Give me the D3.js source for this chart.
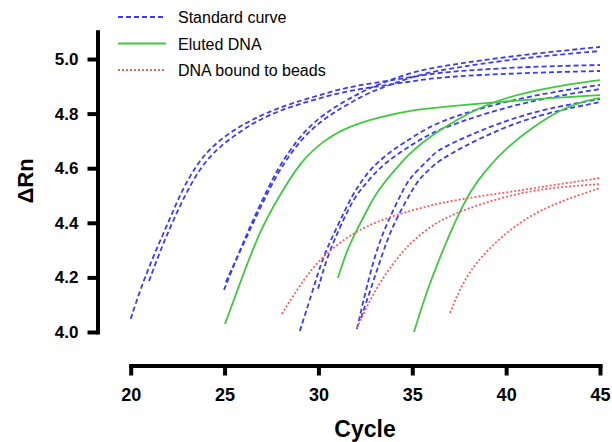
<!DOCTYPE html>
<html>
<head>
<meta charset="utf-8">
<script src="https://cdn.jsdelivr.net/npm/d3@7"></script>
<style>
  body { margin: 0; background: #fff; }
  text { font-family: "Liberation Sans", Arial, sans-serif; }
</style>
</head>
<body>
<svg width="612" height="442"></svg>
<script>
// Amplification curves, [cycle, delta Rn]
const std1 = [[20.0,4.048],[20.5,4.154],[21.19,4.275],[21.93,4.39],[22.73,4.52],[23.53,4.614],[24.22,4.672],[25.29,4.732],[26.51,4.78],[27.95,4.824],[29.71,4.861],[31.52,4.897],[33.28,4.916],[35.04,4.934],[36.48,4.952],[40.74,4.971],[45.0,4.978]];
const std2 = [[20.98,4.187],[21.72,4.326],[23.0,4.52],[23.85,4.614],[24.6,4.67],[25.45,4.716],[26.51,4.766],[27.95,4.813],[29.71,4.85],[31.52,4.883],[33.28,4.901],[35.04,4.919],[36.48,4.934],[40.74,4.949],[45.0,4.956]];
const std3 = [[24.97,4.154],[25.82,4.3],[26.51,4.41],[27.26,4.52],[27.95,4.612],[28.86,4.703],[29.71,4.766],[30.62,4.813],[31.52,4.85],[32.59,4.89],[33.81,4.923],[35.04,4.952],[36.48,4.974],[40.74,5.015],[45.0,5.044]];
const std4 = [[25.07,4.183],[25.98,4.319],[26.72,4.429],[27.47,4.535],[28.16,4.619],[29.02,4.7],[29.87,4.758],[30.78,4.802],[31.68,4.839],[32.75,4.879],[33.92,4.908],[35.14,4.938],[36.48,4.96],[40.74,5.004],[45.0,5.029]];
const std5 = [[29.01,4.004],[29.71,4.154],[30.24,4.275],[30.99,4.385],[31.68,4.484],[32.05,4.527],[32.59,4.582],[33.28,4.63],[34.19,4.678],[35.04,4.714],[36.48,4.777],[40.74,4.861],[45.0,4.905]];
const std6 = [[29.98,4.158],[30.46,4.275],[31.15,4.385],[31.84,4.484],[32.32,4.527],[32.86,4.571],[33.55,4.619],[34.46,4.663],[35.31,4.7],[36.48,4.747],[40.74,4.842],[45.0,4.89]];
const std7 = [[32.05,4.011],[32.74,4.216],[33.28,4.337],[33.81,4.421],[34.5,4.52],[34.88,4.564],[35.41,4.601],[36.1,4.648],[36.48,4.674],[40.74,4.802],[45.0,4.853]];
const std8 = [[32.27,4.051],[33.12,4.227],[33.66,4.337],[34.19,4.421],[34.99,4.52],[35.41,4.564],[35.79,4.586],[36.48,4.637],[40.74,4.784],[45.0,4.842]];

const eluted1 = [[25.02,4.029],[25.82,4.179],[26.89,4.374],[27.95,4.502],[29.02,4.622],[30.24,4.7],[31.52,4.751],[33.28,4.788],[35.04,4.813],[36.48,4.824],[40.74,4.85],[45.0,4.868]];
const eluted2 = [[31.04,4.198],[31.52,4.3],[32.05,4.374],[32.59,4.447],[33.17,4.52],[34.19,4.604],[35.04,4.667],[35.95,4.714],[36.48,4.74],[38.24,4.813],[40.05,4.861],[42.34,4.897],[45.0,4.923]];
const eluted3 = [[35.09,4.0],[35.79,4.154],[36.48,4.275],[37.38,4.421],[38.13,4.52],[38.77,4.582],[40.05,4.678],[41.43,4.751],[42.87,4.813],[43.94,4.842],[45.0,4.857]];

const beads1 = [[28.05,4.066],[28.85,4.154],[29.71,4.238],[30.62,4.3],[31.84,4.363],[33.28,4.41],[35.04,4.447],[36.48,4.473],[38.61,4.498],[40.9,4.52],[42.87,4.542],[45.0,4.564]];
const beads2 = [[32.05,4.015],[32.59,4.095],[33.28,4.183],[34.19,4.271],[35.04,4.337],[36.48,4.414],[38.61,4.469],[40.9,4.513],[42.87,4.531],[45.0,4.542]];
const beads3 = [[37.01,4.07],[37.54,4.16],[38.24,4.24],[39.14,4.31],[40.37,4.385],[41.81,4.447],[43.57,4.495],[45.0,4.527]];

const yTicks = [4.0, 4.2, 4.4, 4.6, 4.8, 5.0];
const xTicks = [20, 25, 30, 35, 40, 45];
const legendLabels = ["Standard curve", "Eluted DNA", "DNA bound to beads"];

const svg = d3.select("svg");

const x = d3.scaleLinear().domain([20, 45]).range([130.7, 600]);
const y = d3.scaleLinear().domain([4.0, 5.1]).range([332, 31.7]);

// Series styles
const styles = {
    std: { color: "#3b3bf5", dash: "5,3", width: 1.8 },
    eluted: { color: "#3fc93f", dash: null, width: 1.8 },
    beads: { color: "#ff5a5a", dash: "2,2", width: 1.8 }
};

const series = [
    ...[std1, std2, std3, std4, std5, std6, std7, std8].map(d => ({ data: d, s: styles.std })),
    ...[eluted1, eluted2, eluted3].map(d => ({ data: d, s: styles.eluted })),
    ...[beads1, beads2, beads3].map(d => ({ data: d, s: styles.beads }))
];

// basis smooths the hand-read points a little
const line = d3.line()
    .x(d => x(d[0]))
    .y(d => y(d[1]))
    .curve(d3.curveBasis);

svg.append("g")
    .selectAll("path")
    .data(series)
    .enter()
    .append("path")
    .attr("d", d => line(d.data))
    .attr("fill", "none")
    .attr("stroke", d => d.s.color)
    .attr("stroke-width", d => d.s.width)
    .attr("stroke-dasharray", d => d.s.dash);

// Axes
const yAxis = svg.append("g")
    .attr("transform", "translate(97.5,0)")
    .call(d3.axisLeft(y).tickValues(yTicks).tickFormat(d3.format(".1f"))
        .tickSize(10).tickSizeOuter(0).tickPadding(9));

const xAxis = svg.append("g")
    .attr("transform", "translate(0,365.5)")
    .call(d3.axisBottom(x).tickValues(xTicks).tickFormat(d3.format("d"))
        .tickSize(10).tickSizeOuter(0).tickPadding(13));

[yAxis, xAxis].forEach(g => {
    g.select(".domain").attr("stroke-width", 4).attr("stroke-linecap", "square");
    g.selectAll(".tick line").attr("stroke-width", 4);
    g.selectAll(".tick text")
        .attr("font-family", "Liberation Sans, Arial, sans-serif")
        .attr("font-weight", "bold")
        .attr("fill", "#000");
});
yAxis.selectAll(".tick text").attr("font-size", 17);
xAxis.selectAll(".tick text").attr("font-size", 18);

// Axis titles
svg.append("text")
    .attr("x", 365)
    .attr("y", 437)
    .attr("text-anchor", "middle")
    .attr("font-size", 23)
    .attr("font-weight", "bold")
    .text("Cycle");

svg.append("text")
    .attr("transform", "translate(33,181) rotate(-90)")
    .attr("text-anchor", "middle")
    .attr("font-size", 22)
    .attr("font-weight", "bold")
    .text("ΔRn");

// Legend
const legend = svg.append("g");
[styles.std, styles.eluted, styles.beads].forEach((s, i) => {
    const ly = 17 + i * 26.5;
    legend.append("line")
        .attr("x1", 118).attr("x2", 166)
        .attr("y1", ly).attr("y2", ly)
        .attr("stroke", s.color)
        .attr("stroke-width", s.width)
        .attr("stroke-dasharray", s.dash);
    legend.append("text")
        .attr("x", 178)
        .attr("y", ly + 6)
        .attr("font-size", 16)
        .text(legendLabels[i]);
});
</script>
</body>
</html>
